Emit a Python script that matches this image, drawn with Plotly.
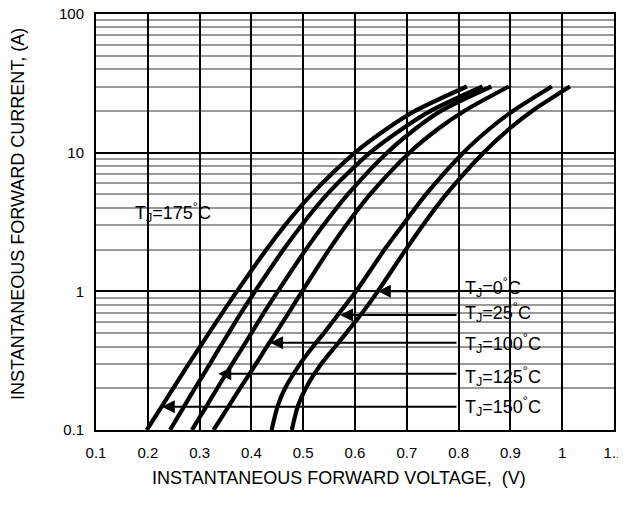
import numpy as np
import plotly.graph_objects as go

# Forward current points (A)
current = [0.1, 0.15, 0.2, 0.3, 0.4, 0.5, 0.7, 1, 2, 3, 5, 10, 15, 20, 30]
# Forward voltage (V) read for each junction temperature
v_175 = [0.198, 0.228, 0.249, 0.279, 0.301, 0.318, 0.344, 0.372, 0.429, 0.465, 0.516, 0.600, 0.663, 0.716, 0.816]
v_150 = [0.243, 0.271, 0.291, 0.320, 0.340, 0.356, 0.380, 0.407, 0.462, 0.497, 0.546, 0.629, 0.693, 0.746, 0.846]
v_125 = [0.285, 0.314, 0.334, 0.363, 0.384, 0.400, 0.424, 0.451, 0.505, 0.539, 0.586, 0.662, 0.718, 0.766, 0.863]
v_100 = [0.327, 0.357, 0.378, 0.409, 0.430, 0.447, 0.472, 0.498, 0.550, 0.583, 0.629, 0.705, 0.762, 0.811, 0.897]
v_25 = [0.439, 0.451, 0.465, 0.494, 0.519, 0.540, 0.570, 0.602, 0.657, 0.692, 0.737, 0.809, 0.861, 0.905, 0.980]
v_0 = [0.478, 0.490, 0.505, 0.535, 0.562, 0.583, 0.614, 0.644, 0.698, 0.731, 0.776, 0.848, 0.899, 0.942, 1.015]

series = [("175", v_175), ("150", v_150), ("125", v_125),
          ("100", v_100), ("25", v_25), ("0", v_0)]

x_ticks = [0.1, 0.2, 0.3, 0.4, 0.5, 0.6, 0.7, 0.8, 0.9, 1.0, 1.1]
x_ticktext = ["0.1", "0.2", "0.3", "0.4", "0.5", "0.6", "0.7", "0.8", "0.9", "1", "1.1"]
y_ticks = [0.1, 1, 10, 100]
y_ticktext = ["0.1", "1", "10", "100"]

# arrow labels: temperature, arrow tip voltage / current, label current
arrow_temps = ["0", "25", "100", "125", "150"]
arrow_tip_v = [0.644, 0.571, 0.436, 0.336, 0.227]
arrow_tip_i = [1.0, 0.676, 0.425, 0.254, 0.147]
label_i = [1.06, 0.70, 0.418, 0.245, 0.147]

FONT = "Liberation Sans, Arial, sans-serif"

fig = go.Figure()
for name, v in series:
    fig.add_trace(go.Scatter(x=v, y=current, mode="lines", name="TJ=" + name + "°C",
                             line=dict(color="black", width=4.2, shape="spline", smoothing=0.8),
                             showlegend=False, hoverinfo="skip"))

# page has an 8px body margin: figure is drawn 8px right/down
OFF = 8
W, H = 626 - OFF, 516 - OFF
L, T = 96 - OFF, 14 - OFF
pw, ph = 518, 416
R, B = W - L - pw, H - T - ph

def px(xp):
    return (xp - OFF - L) / pw

def py(yp):
    return (T + ph - (yp - OFF)) / ph

shapes = []
def white_box(x0, y0, x1, y1):
    shapes.append(dict(type="rect", xref="paper", yref="paper",
                       x0=px(x0), x1=px(x1), y0=py(y1), y1=py(y0),
                       fillcolor="white", line=dict(width=0), layer="between"))

white_box(132, 199, 242, 230)
white_box(462, 279, 560, 424)
white_box(560, 362, 600, 388)

annotations = []
for t, tv, ti, li in zip(arrow_temps, arrow_tip_v, arrow_tip_i, label_i):
    tip_px = 96 + (tv - 0.1) * pw
    tail_px = 458
    annotations.append(dict(x=tv, y=np.log10(ti), xref="x", yref="y", text="",
                            showarrow=True, arrowhead=2, arrowsize=1.3, arrowwidth=2,
                            arrowcolor="black", ax=tail_px - tip_px, ay=0, standoff=0))
    annotations.append(dict(x=0.8085, y=np.log10(li), xref="x", yref="y",
                            text="T<sub>J</sub>=" + t + "<sup>°</sup>C", showarrow=False,
                            xanchor="left", yanchor="middle",
                            font=dict(family=FONT, size=18, color="black")))

annotations.append(dict(x=0.1714, y=0.565, xref="x", yref="y",
                        text="T<sub>J</sub>=175<sup>°</sup>C", showarrow=False,
                        xanchor="left", yanchor="middle",
                        font=dict(family=FONT, size=18, color="black")))

annotations.append(dict(x=px(339), y=py(478), xref="paper", yref="paper",
                        text="INSTANTANEOUS FORWARD VOLTAGE,\u00a0 (V)", showarrow=False,
                        xanchor="center", yanchor="middle",
                        font=dict(family=FONT, size=18, color="black")))
annotations.append(dict(x=px(18), y=py(214), xref="paper", yref="paper",
                        text="INSTANTANEOUS FORWARD CURRENT, (A)", showarrow=False,
                        xanchor="center", yanchor="middle", textangle=-90,
                        font=dict(family=FONT, size=18, color="black")))

fig.update_layout(
    width=W, height=H,
    margin=dict(l=L, r=R, t=T, b=B, autoexpand=False),
    paper_bgcolor="white", plot_bgcolor="white",
    font=dict(family=FONT, size=15, color="black"),
    shapes=shapes, annotations=annotations,
    xaxis=dict(range=[0.1, 1.1], tickvals=x_ticks, ticktext=x_ticktext,
               showgrid=True, gridcolor="black", gridwidth=1.6,
               showline=True, linecolor="black", linewidth=2, mirror=True,
               ticks="", ticklabelstandoff=8, zeroline=False, automargin=False,
               ticklabeloverflow="allow", tickfont=dict(size=15)),
    yaxis=dict(type="log", range=[-1, 2], tickvals=y_ticks, ticktext=y_ticktext,
               showgrid=True, gridcolor="black", gridwidth=1.8,
               minor=dict(dtick="D1", showgrid=True, gridcolor="#999999", gridwidth=2, ticks=""),
               showline=True, linecolor="black", linewidth=2, mirror=True,
               ticks="", ticklabelstandoff=7, zeroline=False, automargin=False,
               ticklabeloverflow="allow", tickfont=dict(size=15)),
)

fig.write_html("out.html")
